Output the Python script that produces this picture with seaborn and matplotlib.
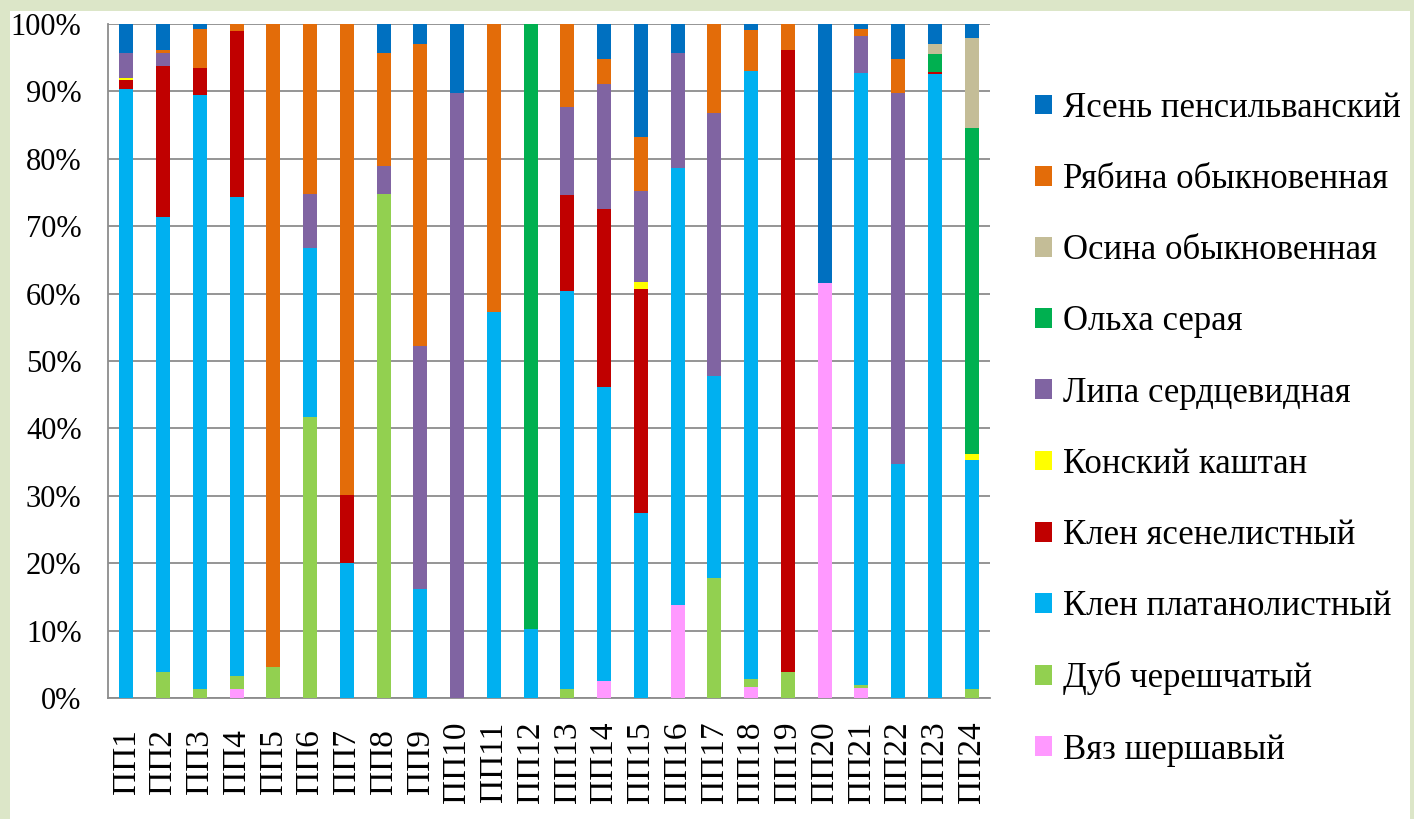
import numpy as np
import matplotlib
matplotlib.use("Agg")
import matplotlib.pyplot as plt
import seaborn as sns
from matplotlib.patches import Rectangle
from matplotlib.font_manager import FontProperties

# Sample plots
plots = [f"ПП{i}" for i in range(1, 25)]

# Species share per plot, %, listed from the bottom of each stack upwards
vyaz = [0, 0, 0, 1.3, 0, 0, 0, 0, 0, 0, 0, 0, 0, 2.5, 0, 13.8, 0, 1.7, 0, 61.5, 1.5, 0, 0, 0]
dub = [0, 3.9, 1.3, 2.0, 4.6, 41.7, 0, 74.8, 0, 0, 0, 0, 1.3, 0, 0, 0, 17.8, 1.1, 3.8, 0, 0.4, 0, 0, 1.3]
klen_plat = [90.4, 67.5, 88.2, 71.0, 0, 25.1, 20.1, 0, 16.2, 0, 57.3, 10.2, 59.1, 43.6, 27.4, 64.8,
             30.0, 90.2, 0, 0, 90.9, 34.7, 92.6, 34.0]
klen_yasen = [1.3, 22.4, 4.0, 24.7, 0, 0, 10.0, 0, 0, 0, 0, 0, 14.2, 26.4, 33.3, 0, 0, 0, 92.3, 0, 0, 0, 0.3, 0]
kashtan = [0.3, 0, 0, 0, 0, 0, 0, 0, 0, 0, 0, 0, 0, 0, 1.0, 0, 0, 0, 0, 0, 0, 0, 0, 0.9]
lipa = [3.7, 1.9, 0, 0, 0, 8.0, 0, 4.2, 36.0, 89.8, 0, 0, 13.1, 18.6, 13.5, 17.1, 39.0, 0, 0, 0, 5.4, 55.1, 0, 0]
olha = [0, 0, 0, 0, 0, 0, 0, 0, 0, 0, 0, 89.8, 0, 0, 0, 0, 0, 0, 0, 0, 0, 0, 2.6, 48.4]
osina = [0, 0, 0, 0, 0, 0, 0, 0, 0, 0, 0, 0, 0, 0, 0, 0, 0, 0, 0, 0, 0, 0, 1.5, 13.3]
ryabina = [0, 0.4, 5.8, 1.0, 95.4, 25.2, 69.9, 16.7, 44.8, 0, 42.7, 0, 12.3, 3.7, 8.0, 0, 13.2, 6.1, 3.9, 0,
           1.0, 5.0, 0, 0]
yasen = [4.3, 3.9, 0.7, 0, 0, 0, 0, 4.3, 3.0, 10.2, 0, 0, 0, 5.2, 16.8, 4.3, 0, 0.9, 0, 38.5, 0.8, 5.2, 3.0, 2.1]

species = ["Вяз шершавый", "Дуб черешчатый", "Клен платанолистный", "Клен ясенелистный",
           "Конский каштан", "Липа сердцевидная", "Ольха серая", "Осина обыкновенная",
           "Рябина обыкновенная", "Ясень пенсильванский"]
series = [vyaz, dub, klen_plat, klen_yasen, kashtan, lipa, olha, osina, ryabina, yasen]
colors = ["#FF99FF", "#92D050", "#00B0F0", "#C00000", "#FFFF00",
          "#8064A2", "#00B050", "#C4BD97", "#E36C09", "#0070C0"]

sns.set_style("white")
serif = ["Liberation Serif", "DejaVu Serif"]
plt.rcParams["font.family"] = serif
plt.rcParams["text.color"] = "black"
plt.rcParams["xtick.color"] = "black"
plt.rcParams["ytick.color"] = "black"

fig = plt.figure(figsize=(14.14, 8.19), dpi=100, facecolor="#dce6c8")
fig.patches.append(Rectangle((10 / 1414, 0), 1400 / 1414, 808 / 819,
                             transform=fig.transFigure, facecolor="white",
                             edgecolor="none", zorder=-5))

ax = fig.add_axes([108 / 1414, 121 / 819, 882 / 1414, 674 / 819])
ax.set_zorder(2)
ax.set_facecolor("none")

# Stacked bars: draw cumulative totals from the top species down,
# each shorter bar painted over the taller one below it
cum = np.cumsum(np.array(series, dtype=float), axis=0)
for k in range(len(species) - 1, -1, -1):
    sns.barplot(x=plots, y=cum[k], color=colors[k], width=0.38, saturation=1,
                label=species[k], linewidth=0, edgecolor="none", ax=ax, zorder=3)

handles, labels = ax.get_legend_handles_labels()
if ax.get_legend() is not None:
    ax.get_legend().remove()

ax.set_ylim(0, 100)
ax.set_xlim(-0.5, len(plots) - 0.5)
ax.set_yticks(np.arange(0, 101, 10))
ax.set_yticklabels([f"{v}%" for v in range(0, 101, 10)], fontsize=22, family=serif)
ax.yaxis.grid(True, color="#8c8c8c", linewidth=1.3, zorder=0)
ax.set_axisbelow(True)
ax.set_xlabel("")
ax.set_ylabel("")

for s in ["top", "right"]:
    ax.spines[s].set_visible(False)
for s in ["left", "bottom"]:
    ax.spines[s].set_color("#8c8c8c")
    ax.spines[s].set_linewidth(1.3)

ax.set_xticks(np.arange(len(plots)))
ax.set_xticklabels(plots, rotation=90, fontsize=24, va="center", family=serif)
ax.tick_params(axis="x", length=0, pad=46)
ax.set_xticks(np.arange(-0.5, len(plots), 1), minor=True)
ax.tick_params(axis="x", which="minor", length=9, color="#8c8c8c", width=1.3)
ax.tick_params(axis="y", length=0, pad=19)

leg = fig.legend(handles, labels, loc="upper left", bbox_to_anchor=(1021 / 1414, 1 - 78 / 819),
                 frameon=False, prop=FontProperties(family=serif, size=25),
                 handlelength=0.5, handleheight=0.5,
                 handletextpad=0.3, labelspacing=1.1, borderaxespad=0)
leg.set_zorder(3)

fig.savefig("out.png", dpi=100, facecolor=fig.get_facecolor())
